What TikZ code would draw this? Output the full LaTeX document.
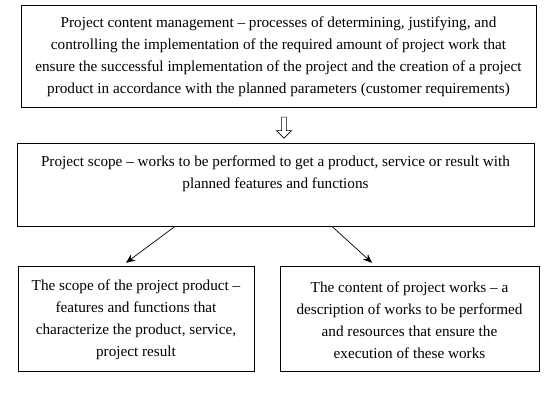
\documentclass[tikz,border=0pt]{standalone}
\usepackage{fontspec}
\setmainfont{Liberation Serif}
\usetikzlibrary{arrows.meta,shapes.arrows}
\begin{document}
\begin{tikzpicture}[x=1pt,y=-1pt,
  box/.style={draw,line width=0.8pt,rectangle,inner sep=0pt},
  txt/.style={align=center,font=\fontsize{15.2}{22}\selectfont,inner sep=0pt},
  arr/.style={line width=0.7pt,-{Stealth[length=9pt,width=7.5pt]}}]
\useasboundingbox (0,0) rectangle (554,402);
\node[box,minimum width=515pt,minimum height=102pt] (mgmt) at (278.5,56.7) {};
\node[txt] (mgmttext) at (278.5,57) {Project content management – processes of determining, justifying, and\\controlling the implementation of the required amount of project work that\\ensure the successful implementation of the project and the creation of a project\\product in accordance with the planned parameters (customer requirements)};
\node[draw,line width=0.6pt,single arrow,shape border rotate=270,minimum height=21pt,minimum width=15pt,single arrow head extend=4pt,inner sep=1.5pt] (down) at (284,126.5) {};
\node[box,minimum width=517pt,minimum height=83pt] (scope) at (275.5,184.5) {};
\node[txt] (scopetext) at (275.5,174) {Project scope – works to be performed to get a product, service or result with\\planned features and functions};
\node[box,minimum width=236pt,minimum height=105pt] (prod) at (136,319.2) {};
\node[txt] (prodtext) at (136,320) {The scope of the project product –\\features and functions that\\characterize the product, service,\\project result};
\node[box,minimum width=259pt,minimum height=105pt] (work) at (409.5,319.2) {};
\node[txt] (worktext) at (409.5,320) {The content of project works – a\\description of works to be performed\\and resources that ensure the\\execution of these works};
\draw[arr] ([xshift=-100.5pt]scope.south) -- ([xshift=-10pt,yshift=3.5pt]prod.north);
\draw[arr] ([xshift=56.5pt]scope.south) -- ([xshift=-37.5pt,yshift=3.5pt]work.north);
\end{tikzpicture}
\end{document}
